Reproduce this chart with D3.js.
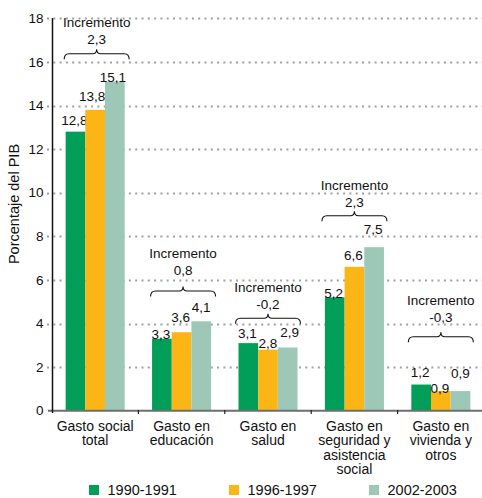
<!DOCTYPE html>
<html><head><meta charset="utf-8">
<script src="https://cdn.jsdelivr.net/npm/d3@7/dist/d3.min.js"></script>
<style>
html,body{margin:0;padding:0;background:#fff;}
svg{display:block;font-family:"Liberation Sans",Arial,Helvetica,sans-serif;}
</style></head>
<body>
<svg id="chart" width="482" height="498"></svg>
<script>
// ---- data ----
const categories = ["Gasto social\ntotal", "Gasto en\neducación", "Gasto en\nsalud", "Gasto en\nseguridad y\nasistencia\nsocial", "Gasto en\nvivienda y\notros"];
const seriesNames = ["1990-1991", "1996-1997", "2002-2003"];
const v1990 = [12.8, 3.3, 3.1, 5.2, 1.2];
const v1996 = [13.8, 3.6, 2.8, 6.6, 0.9];
const v2002 = [15.1, 4.1, 2.9, 7.5, 0.9];
const increments = ["2,3", "0,8", "-0,2", "2,3", "-0,3"];
const yTicks = [0, 2, 4, 6, 8, 10, 12, 14, 16, 18];
const yLabel = "Porcentaje del PIB";
const annWord = "Incremento";

// ---- style / layout ----
const colors = ["#009e58", "#fbb616", "#9dc8b8"];
const braceLevel = [16.58, 5.70, 4.45, 9.15, 3.60];      // data level of brace tip
const valueGap = [10, 16.7, 9, 9.4, 14.6];               // px from brace tip to value text centre
const labelDy = [[-11, -14, -4], [-5, -15, -14], [-9.5, -6, -15], [-4, -12, -18], [-12, -3, -18]];
const labelDx = [[-1, -3, -2], [-1, -1, 0], [-1, 0, 2], [-1, -1, -1], [-1, -1, 0]];

const svg = d3.select("#chart");
const seriesVals = [v1990, v1996, v2002];

const x = d3.scaleBand().domain(categories).range([52, 484]).paddingInner(0.317).paddingOuter(0.158);
const xs = d3.scaleBand().domain(d3.range(seriesNames.length)).range([0, x.bandwidth()]);
const y = d3.scaleLinear().domain([0, 18]).range([410.7, 18.3]);

const fmt = v => d3.format(".1f")(v).replace(".", ",");

// gridlines
svg.append("g").selectAll("line").data(yTicks.filter(t => t > 0)).join("line")
  .attr("x1", 47).attr("x2", 482)
  .attr("y1", d => Math.round(y(d)) + 0.5).attr("y2", d => Math.round(y(d)) + 0.5)
  .attr("stroke", "#a0a0a0").attr("stroke-width", 2).attr("stroke-dasharray", "2,4.3");

// y tick labels
svg.append("g").selectAll("text").data(yTicks).join("text")
  .attr("x", 43.5).attr("y", d => y(d) + 4.6)
  .attr("text-anchor", "end").attr("font-size", 13.5).attr("fill", "#111")
  .text(d => d);

// y label
svg.append("text").attr("transform", "translate(18.5,204) rotate(-90)")
  .attr("text-anchor", "middle").attr("font-size", 14.5).attr("fill", "#111").text(yLabel);

// bars
const groups = svg.append("g").selectAll("g").data(categories).join("g")
  .attr("transform", d => `translate(${x(d)},0)`);
groups.each(function(cat, ci) {
  const g = d3.select(this);
  seriesVals.forEach((vals, si) => {
    g.append("rect")
      .attr("x", xs(si)).attr("width", xs.bandwidth())
      .attr("y", y(vals[ci])).attr("height", y(0) - y(vals[ci]))
      .attr("fill", colors[si]);
    g.append("text")
      .attr("x", xs(si) + xs.bandwidth() / 2 + labelDx[ci][si])
      .attr("y", y(vals[ci]) + labelDy[ci][si] + 4.8)
      .attr("text-anchor", "middle").attr("font-size", 13.5).attr("fill", "#111")
      .text(fmt(vals[ci]));
  });
  // annotation
  const cx = x.bandwidth() / 2 + (ci < 2 ? 1.5 : 0);
  const t = y(braceLevel[ci]);
  const w = 65, h = 10;
  const l = cx - w / 2, r = cx + w / 2, m = t + 4.5;
  const path = `M${l},${t + h} Q${l},${m} ${l + 5},${m} L${cx - 4},${m} Q${cx},${m} ${cx},${t} Q${cx},${m} ${cx + 4},${m} L${r - 5},${m} Q${r},${m} ${r},${t + h}`;
  g.append("path").attr("d", path).attr("fill", "none").attr("stroke", "#111").attr("stroke-width", 1.1);
  const vc = t - valueGap[ci];
  g.append("text").attr("x", cx).attr("y", vc + 4.8).attr("text-anchor", "middle")
    .attr("font-size", 13.5).attr("fill", "#111").text(increments[ci]);
  g.append("text").attr("x", cx).attr("y", vc - 17 + 4.8).attr("text-anchor", "middle")
    .attr("font-size", 13.5).attr("fill", "#111").text(annWord);
});

// x axis
svg.append("line").attr("x1", 48).attr("x2", 482).attr("y1", 410.7).attr("y2", 410.7)
  .attr("stroke", "#6e6e6e").attr("stroke-width", 2);
const bounds = categories.slice(1).map(c => x(c) - x.step() * x.paddingInner() / 2);
svg.append("g").selectAll("line").data(bounds).join("line")
  .attr("x1", d => d).attr("x2", d => d).attr("y1", 410).attr("y2", 414)
  .attr("stroke", "#222").attr("stroke-width", 1.2);
// y axis
svg.append("line").attr("x1", 52.5).attr("x2", 52.5).attr("y1", 18).attr("y2", 413)
  .attr("stroke", "#111").attr("stroke-width", 1.5);

// category labels
svg.append("g").selectAll("text").data(categories).join("text")
  .attr("x", d => x(d) + x.bandwidth() / 2).attr("y", 430.5)
  .attr("text-anchor", "middle").attr("font-size", 14).attr("fill", "#111")
  .each(function(d) {
    d3.select(this).selectAll("tspan").data(d.split("\n")).join("tspan")
      .attr("x", x(d) + x.bandwidth() / 2).attr("dy", (s, i) => i ? 14.5 : 0).text(s => s);
  });

// legend
const leg = svg.append("g").selectAll("g").data(seriesNames).join("g")
  .attr("transform", (d, i) => `translate(${89 + i * 140},485)`);
leg.append("rect").attr("width", 10).attr("height", 10).attr("fill", (d, i) => colors[i]);
leg.append("text").attr("x", 18.5).attr("y", 10).attr("font-size", 14.5).attr("fill", "#111").text(d => d);
</script>
</body></html>
